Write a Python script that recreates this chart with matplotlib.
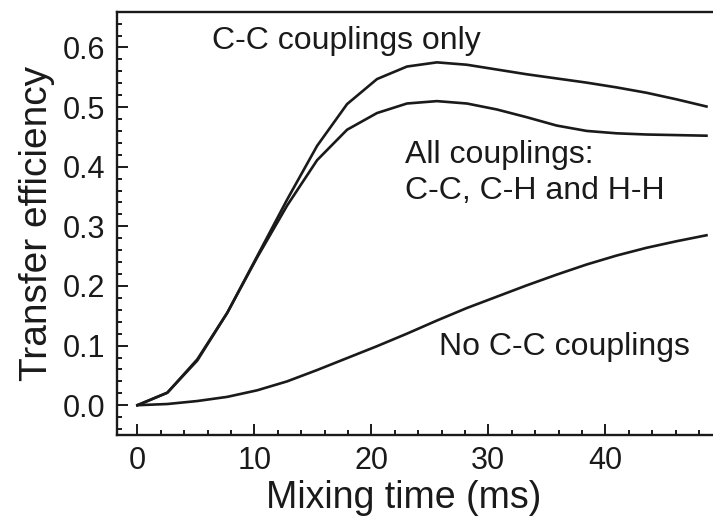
import matplotlib
matplotlib.use("Agg")
import matplotlib.pyplot as plt
from matplotlib.ticker import MultipleLocator

plt.rcParams['font.family'] = ['Liberation Sans', 'DejaVu Sans']

# Tiempos de mezcla (ms) y eficiencias
tiempo = [0, 2.56, 5.12, 7.68, 10.24, 12.8, 15.36, 17.92, 20.48, 23.04,
          25.6, 28.16, 30.72, 33.28, 35.84, 38.4, 40.96, 43.52, 46.08, 48.64]
solo_cc = [0, 0.021, 0.077, 0.155, 0.250, 0.345, 0.435, 0.505, 0.547, 0.568,
           0.575, 0.571, 0.563, 0.555, 0.548, 0.541, 0.533, 0.524, 0.513, 0.501]
todos = [0, 0.021, 0.075, 0.155, 0.248, 0.335, 0.411, 0.462, 0.490, 0.506,
         0.510, 0.506, 0.496, 0.483, 0.469, 0.460, 0.456, 0.454, 0.453, 0.452]
sin_cc = [0, 0.002, 0.007, 0.014, 0.025, 0.040, 0.059, 0.079, 0.099, 0.120,
          0.142, 0.163, 0.182, 0.201, 0.219, 0.236, 0.251, 0.264, 0.275, 0.285]

etiquetas = ["C-C couplings only", "All couplings:\nC-C, C-H and H-H", "No C-C couplings"]

fig = plt.figure(figsize=(7.13, 5.18), dpi=100)
ax = fig.add_axes([0.1637, 0.1602, 0.8363, 0.8161])

for serie in (solo_cc, todos, sin_cc):
    ax.plot(tiempo, serie, color='#1a1a1a', lw=1.9, solid_joinstyle='round')

ax.set_xlim(-1.77, 49.2)
ax.set_ylim(-0.05, 0.659)
ax.xaxis.set_major_locator(MultipleLocator(10))
ax.xaxis.set_minor_locator(MultipleLocator(2))
ax.yaxis.set_major_locator(MultipleLocator(0.1))
ax.yaxis.set_minor_locator(MultipleLocator(0.02))
ax.yaxis.set_major_formatter(matplotlib.ticker.FormatStrFormatter('%.1f'))

ax.tick_params(which='both', direction='in', width=1.4, color='#1a1a1a',
               top=False, right=False, labelsize=22, labelcolor='#1a1a1a')
ax.tick_params(which='major', length=7.7, pad=8)
ax.tick_params(which='minor', length=3.8)
ax.tick_params(axis='x', pad=8)

for lado in ('left', 'bottom', 'top'):
    ax.spines[lado].set_linewidth(1.7)
    ax.spines[lado].set_color('#1a1a1a')
ax.spines['right'].set_visible(False)

ax.set_xlabel('Mixing time (ms)', fontsize=27, color='#1a1a1a', labelpad=3)
ax.xaxis.label.set_x(0.482)
ax.set_ylabel('Transfer efficiency', fontsize=28, color='#1a1a1a', labelpad=6)

ax.text(6.4, 0.61, etiquetas[0], fontsize=23, va='center', color='#1a1a1a')
ax.text(22.9, 0.39, etiquetas[1], fontsize=23, va='center', color='#1a1a1a',
        linespacing=1.25)
ax.text(25.8, 0.097, etiquetas[2], fontsize=23, va='center', color='#1a1a1a')

fig.savefig('out.png', dpi=100)
